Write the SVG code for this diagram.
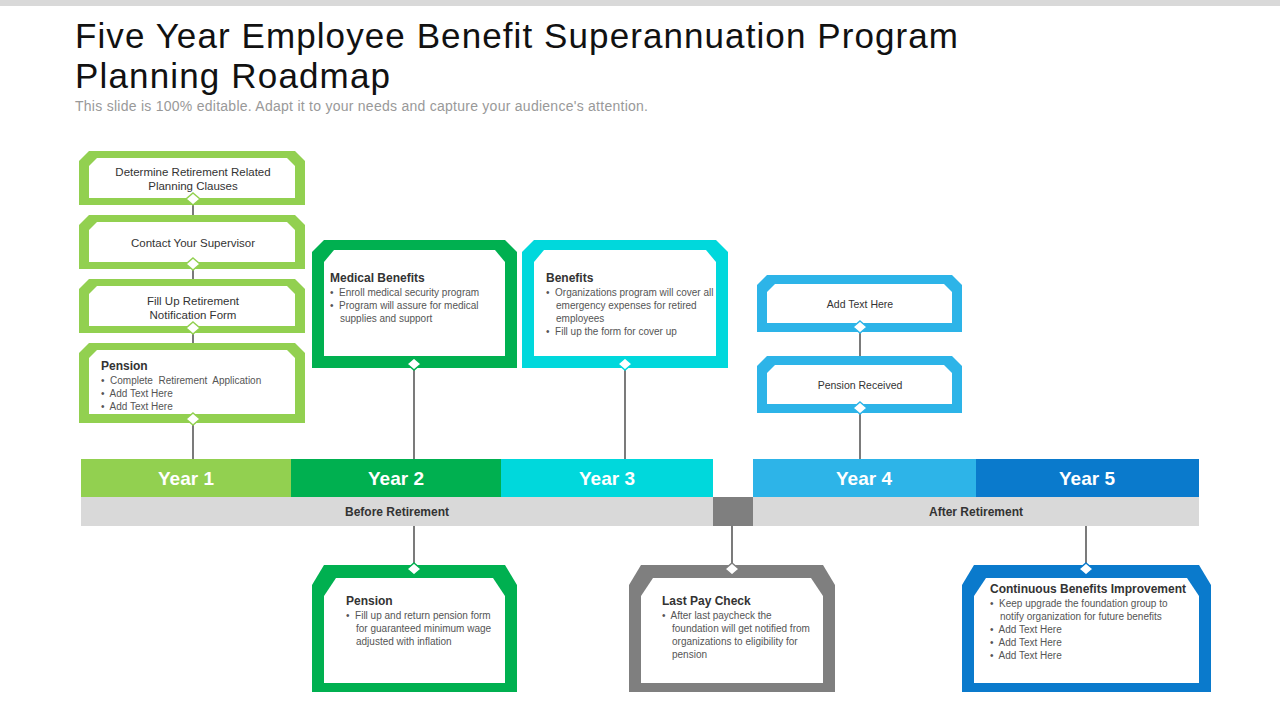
<svg xmlns="http://www.w3.org/2000/svg" width="1280" height="720" viewBox="0 0 1280 720">
<style>
.t{font-family:"Liberation Sans",Arial,sans-serif;fill:#333;white-space:pre}
.c{font-size:11.5px;text-anchor:middle}
.h{font-size:12px;font-weight:bold}
.b{font-size:10px;fill:#555}
.y{font-family:"Liberation Sans",Arial,sans-serif;font-size:19px;font-weight:bold;fill:#fff;text-anchor:middle}
.d{fill:#fff;stroke-width:1.5}
.ln{stroke:#222;stroke-width:1.2}
</style>
<rect width="1280" height="6" fill="#d9d9d9"/>
<text x="75" y="48" font-family="Liberation Sans,Arial,sans-serif" font-size="35" fill="#111" textLength="883" lengthAdjust="spacing">Five Year Employee Benefit Superannuation Program</text>
<text x="75" y="88" font-family="Liberation Sans,Arial,sans-serif" font-size="35" fill="#111" textLength="315" lengthAdjust="spacing">Planning Roadmap</text>
<text x="75" y="111" font-family="Liberation Sans,Arial,sans-serif" font-size="14" fill="#999" textLength="573" lengthAdjust="spacing">This slide is 100% editable. Adapt it to your needs and capture your audience's attention.</text>
<g id="connectors" class="ln">
<line x1="193" y1="198" x2="193" y2="459"/>
<line x1="414" y1="364" x2="414" y2="459"/>
<line x1="625" y1="364" x2="625" y2="459"/>
<line x1="860" y1="327" x2="860" y2="459"/>
<line x1="414" y1="526" x2="414" y2="569"/>
<line x1="732" y1="526" x2="732" y2="569"/>
<line x1="1086" y1="526" x2="1086" y2="569"/>
</g>
<g id="timeline">
<rect x="81" y="459" width="210" height="38" fill="#92d050"/><text class="y" x="186" y="485">Year 1</text>
<rect x="291" y="459" width="210" height="38" fill="#00b050"/><text class="y" x="396" y="485">Year 2</text>
<rect x="501" y="459" width="212" height="38" fill="#00d8dc"/><text class="y" x="607" y="485">Year 3</text>
<rect x="753" y="459" width="223" height="38" fill="#2db4e8"/><text class="y" x="864" y="485">Year 4</text>
<rect x="976" y="459" width="223" height="38" fill="#0a7acc"/><text class="y" x="1087" y="485">Year 5</text>
<rect x="81" y="497" width="632" height="29" fill="#d9d9d9"/>
<rect x="713" y="497" width="40" height="29" fill="#7f7f7f"/>
<rect x="753" y="497" width="446" height="29" fill="#d9d9d9"/>
<text class="t h" x="397" y="516" text-anchor="middle">Before Retirement</text>
<text class="t h" x="976" y="516" text-anchor="middle">After Retirement</text>
</g>
<g id="n1"><path d="M89 151H295L305 161V205H79V161Z" fill="#92d050"/><path d="M97 158H287L295 166V198H89V166Z" fill="#fff"/><path class="d" stroke="#92d050" d="M193 193L200 199L193 205L186 199Z"/>
<text class="t c" x="193" y="176">Determine Retirement Related</text><text class="t c" x="193" y="190">Planning Clauses</text></g>
<g id="n2"><path d="M89 215H295L305 225V269H79V225Z" fill="#92d050"/><path d="M97 222H287L295 230V262H89V230Z" fill="#fff"/><path class="d" stroke="#92d050" d="M193 258L200 264L193 270L186 264Z"/>
<text class="t c" x="193" y="247">Contact Your Supervisor</text></g>
<g id="n3"><path d="M89 279H295L305 289V333H79V289Z" fill="#92d050"/><path d="M97 286H287L295 294V326H89V294Z" fill="#fff"/><path class="d" stroke="#92d050" d="M193 322L200 328L193 334L186 328Z"/>
<text class="t c" x="193" y="305">Fill Up Retirement</text><text class="t c" x="193" y="319">Notification Form</text></g>
<g id="n4"><path d="M89 343H295L305 353V423H79V353Z" fill="#92d050"/><path d="M97 350H287L295 358V414H89V358Z" fill="#fff"/><path class="d" stroke="#92d050" d="M193 413L200 419L193 425L186 419Z"/>
<text class="t h" x="101" y="370">Pension</text><text class="t b" x="101" y="384">•  Complete  Retirement  Application</text><text class="t b" x="101" y="397">•  Add Text Here</text><text class="t b" x="101" y="410">•  Add Text Here</text></g>
<g id="n5"><path d="M324 240H505L517 252V368H312V252Z" fill="#00b050"/><path d="M334 250H495L505 262V356H324V262Z" fill="#fff"/><path class="d" stroke="#00b050" d="M414 358L421 364L414 370L407 364Z"/>
<text class="t h" x="330" y="282">Medical Benefits</text><text class="t b" x="330" y="296">•  Enroll medical security program</text><text class="t b" x="330" y="309">•  Program will assure for medical</text><text class="t b" x="340" y="322">supplies and support</text></g>
<g id="n6"><path d="M534 240H716L728 252V368H522V252Z" fill="#00d8dc"/><path d="M544 250H706L716 262V356H534V262Z" fill="#fff"/><path class="d" stroke="#00d8dc" d="M625 358L632 364L625 370L618 364Z"/>
<text class="t h" x="546" y="282">Benefits</text><text class="t b" x="546" y="296">•  Organizations program will cover all</text><text class="t b" x="556" y="309">emergency expenses for retired</text><text class="t b" x="556" y="322">employees</text><text class="t b" x="546" y="335">•  Fill up the form for cover up</text></g>
<g id="n7"><path d="M767 275H952L962 285V332H757V285Z" fill="#2db4e8"/><path d="M775 284H944L952 292V323H767V292Z" fill="#fff"/><path class="d" stroke="#2db4e8" d="M860 321L867 327L860 333L853 327Z"/>
<text class="t c" x="860" y="308" style="font-size:10.5px">Add Text Here</text></g>
<g id="n8"><path d="M767 356H952L962 366V413H757V366Z" fill="#2db4e8"/><path d="M775 365H944L952 373V404H767V373Z" fill="#fff"/><path class="d" stroke="#2db4e8" d="M860 402L867 408L860 414L853 408Z"/>
<text class="t c" x="860" y="389" style="font-size:10.5px">Pension Received</text></g>
<g id="n9"><path d="M324 565H505L517 585V692H312V585Z" fill="#00b050"/><path d="M336 578H493L505 596V683H324V596Z" fill="#fff"/><path class="d" stroke="#00b050" d="M414 563L421 569L414 575L407 569Z"/>
<text class="t h" x="346" y="605">Pension</text><text class="t b" x="346" y="619">•  Fill up and return pension form</text><text class="t b" x="356" y="632">for guaranteed minimum wage</text><text class="t b" x="356" y="645">adjusted with inflation</text></g>
<g id="n10"><path d="M641 565H823L835 585V692H629V585Z" fill="#7f7f7f"/><path d="M653 578H811L823 596V683H641V596Z" fill="#fff"/><path class="d" stroke="#7f7f7f" d="M732 563L739 569L732 575L725 569Z"/>
<text class="t h" x="662" y="605">Last Pay Check</text><text class="t b" x="662" y="619">•  After last paycheck the</text><text class="t b" x="672" y="632">foundation will get notified from</text><text class="t b" x="672" y="645">organizations to eligibility for</text><text class="t b" x="672" y="658">pension</text></g>
<g id="n11"><path d="M974 565H1199L1211 585V692H962V585Z" fill="#0a7acc"/><path d="M986 578H1187L1199 596V683H974V596Z" fill="#fff"/><path class="d" stroke="#0a7acc" d="M1086 563L1093 569L1086 575L1079 569Z"/>
<text class="t h" x="990" y="593">Continuous Benefits Improvement</text><text class="t b" x="990" y="607">•  Keep upgrade the foundation group to</text><text class="t b" x="1000" y="620">notify organization for future benefits</text><text class="t b" x="990" y="633">•  Add Text Here</text><text class="t b" x="990" y="646">•  Add Text Here</text><text class="t b" x="990" y="659">•  Add Text Here</text></g>
</svg>
